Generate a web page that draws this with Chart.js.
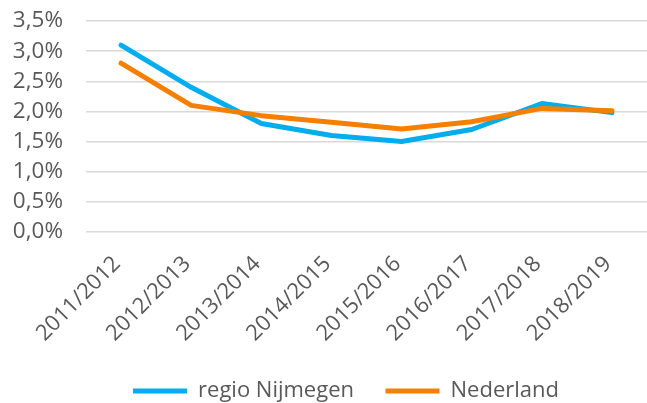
<!DOCTYPE html>
<html lang="nl">
<head>
<meta charset="utf-8">
<title>regio Nijmegen vs Nederland</title>
<script src="https://cdn.jsdelivr.net/npm/chart.js@4.4.1/dist/chart.umd.min.js"></script>
<style>
    html, body { margin: 0; padding: 0; background: #ffffff; }
    #chartWrap { width: 647px; height: 403px; }
</style>
</head>
<body>
<div id="chartWrap"><canvas id="lineChart" width="647" height="403"></canvas></div>
<script>
// Schooljaren
const schoolYears = ['2011/2012', '2012/2013', '2013/2014', '2014/2015', '2015/2016', '2016/2017', '2017/2018', '2018/2019'];
// Percentages per jaar
const regioNijmegen = [3.1, 2.4, 1.8, 1.6, 1.5, 1.7, 2.13, 1.98];
const nederland = [2.8, 2.1, 1.93, 1.82, 1.71, 1.83, 2.05, 2.01];
const yTicks = [0, 0.5, 1, 1.5, 2, 2.5, 3, 3.5];

const textColor = '#595959';
const fontFamily = "'Open Sans', 'Noto Sans', sans-serif";

function formatPercent(v) {
    return v.toFixed(1).replace('.', ',') + '%';
}

// legenda iets naar rechts, zoals in het origineel
const legendShift = {
    id: 'legendShift',
    afterLayout(chart) {
        chart.legend.left += 19;
        chart.legend.right += 19;
    }
};

document.addEventListener('DOMContentLoaded', () => {
    const ctx = document.getElementById('lineChart').getContext('2d');
    const lineStyle = { borderWidth: 5, borderCapStyle: 'round', borderJoinStyle: 'round', pointRadius: 0, pointHoverRadius: 0, fill: false, tension: 0 };
    new Chart(ctx, {
        type: 'line',
        data: {
            labels: schoolYears,
            datasets: [
                { label: 'regio Nijmegen', data: regioNijmegen, borderColor: '#00aeef', backgroundColor: '#00aeef', order: 1, ...lineStyle },
                { label: 'Nederland', data: nederland, borderColor: '#f58000', backgroundColor: '#f58000', order: 0, ...lineStyle }
            ]
        },
        plugins: [legendShift],
        options: {
            responsive: false,
            animation: false,
            layout: { padding: { left: 0, right: -7, top: 21, bottom: -9 } },
            plugins: {
                tooltip: { enabled: false },
                legend: {
                    position: 'bottom',
                    labels: {
                        usePointStyle: true,
                        pointStyle: 'line',
                        pointStyleWidth: 54,
                        padding: 31.5,
                        color: textColor,
                        font: { family: fontFamily, size: 22 },
                        sort: (a, b) => a.datasetIndex - b.datasetIndex
                    }
                }
            },
            scales: {
                x: {
                    offset: true,
                    grid: { display: false },
                    border: { display: false },
                    afterFit: axis => { axis.height = 116.5; },
                    ticks: {
                        minRotation: 45,
                        maxRotation: 45,
                        autoSkip: false,
                        padding: 11,
                        labelOffset: -4,
                        color: textColor,
                        font: { family: fontFamily, size: 22 }
                    }
                },
                y: {
                    min: 0,
                    max: 3.5,
                    afterFit: axis => { axis.width = 86; },
                    afterBuildTicks: axis => { axis.ticks = yTicks.map(v => ({ value: v })); },
                    grid: { color: '#d9d9d9', lineWidth: 1.5, drawTicks: true, tickLength: 23, tickColor: 'rgba(0,0,0,0)' },
                    border: { display: false },
                    ticks: {
                        padding: 0,
                        color: textColor,
                        font: { family: fontFamily, size: 22.5 },
                        callback: v => formatPercent(v)
                    }
                }
            }
        }
    });
});
</script>
</body>
</html>
